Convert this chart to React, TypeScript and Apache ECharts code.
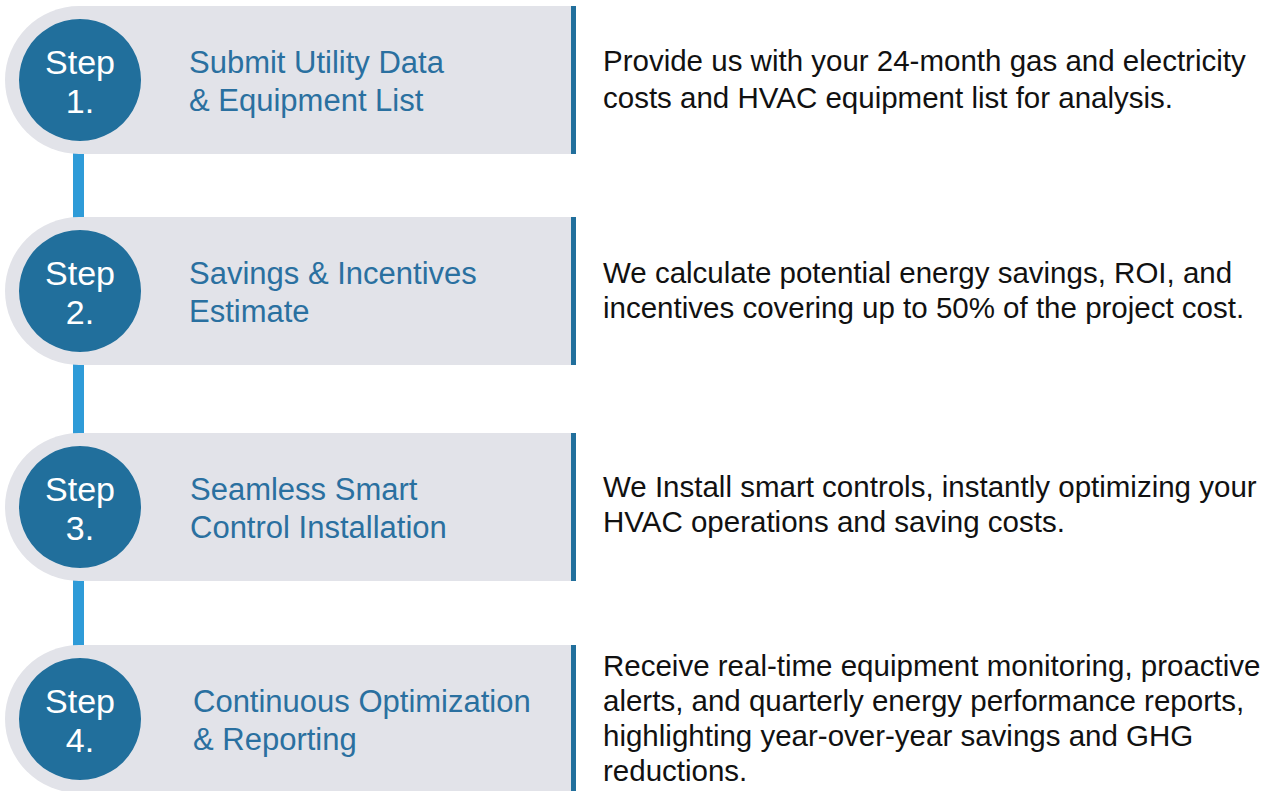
import React, { useEffect, useRef } from "react";
import * as echarts from "echarts";

const stepLabels = ["1.", "2.", "3.", "4."];
const titleLines = [
  ["Submit Utility Data", "& Equipment List"],
  ["Savings & Incentives", "Estimate"],
  ["Seamless Smart", "Control Installation"],
  ["Continuous Optimization", "& Reporting"],
];
const descLines = [
  ["Provide us with your 24-month gas and electricity", "costs and HVAC equipment list for analysis."],
  ["We calculate potential energy savings, ROI, and", "incentives covering up to 50% of the project cost."],
  ["We Install smart controls, instantly optimizing your", "HVAC operations and saving costs."],
  [
    "Receive real-time equipment monitoring, proactive",
    "alerts, and quarterly energy performance reports,",
    "highlighting year-over-year savings and GHG",
    "reductions.",
  ],
];
const cardTops = [6, 217, 433, 645];
const titleX = [189, 189, 190, 193];
const descTopOffset = [54, 55, 53, 20];
const descLineH = [37, 35, 35, 35];

const FONT = "'Liberation Sans', Arial, sans-serif";
const GRAY = "#e2e3e9";
const DARK = "#216f9c";
const LIGHT = "#2e9bd8";
const TITLE = "#2a70a0";

export default function App() {
  const ref = useRef<HTMLDivElement>(null);
  useEffect(() => {
    const chart = echarts.init(ref.current!, null, { renderer: "svg" });
    const els: any[] = [];
    for (let i = 0; i < cardTops.length - 1; i++) {
      const y0 = cardTops[i] + 148;
      const y1 = cardTops[i + 1];
      els.push({ type: "rect", shape: { x: 73, y: y0 - 2, width: 11, height: y1 - y0 + 4 }, style: { fill: LIGHT } });
    }
    cardTops.forEach((top, i) => {
      const cy = top + 74;
      els.push({ type: "rect", shape: { x: 5, y: top, width: 567, height: 148, r: [74, 0, 0, 74] }, style: { fill: GRAY } });
      els.push({ type: "rect", shape: { x: 571, y: top, width: 5, height: 148 }, style: { fill: DARK } });
      els.push({ type: "circle", shape: { cx: 80, cy, r: 61 }, style: { fill: DARK } });
      els.push({ type: "text", style: { text: "Step", x: 80, y: cy - 18, fill: "#ffffff", font: `34px ${FONT}`, align: "center", verticalAlign: "middle" } });
      els.push({ type: "text", style: { text: stepLabels[i], x: 80, y: cy + 21, fill: "#ffffff", font: `34px ${FONT}`, align: "center", verticalAlign: "middle" } });
      titleLines[i].forEach((t, j) => {
        els.push({ type: "text", style: { text: t, x: titleX[i], y: cy - 18 + j * 38, fill: TITLE, font: `31px ${FONT}`, align: "left", verticalAlign: "middle" } });
      });
      descLines[i].forEach((t, j) => {
        els.push({ type: "text", style: { text: t, x: 603, y: top + descTopOffset[i] + j * descLineH[i], fill: "#111111", font: `29.5px ${FONT}`, align: "left", verticalAlign: "middle" } });
      });
    });
    chart.setOption({ animation: false, backgroundColor: "#ffffff", graphic: { elements: els } });
    return () => chart.dispose();
  }, []);
  return <div ref={ref} style={{ position: "fixed", left: 0, top: 0, width: 1282, height: 791 }} />;
}
